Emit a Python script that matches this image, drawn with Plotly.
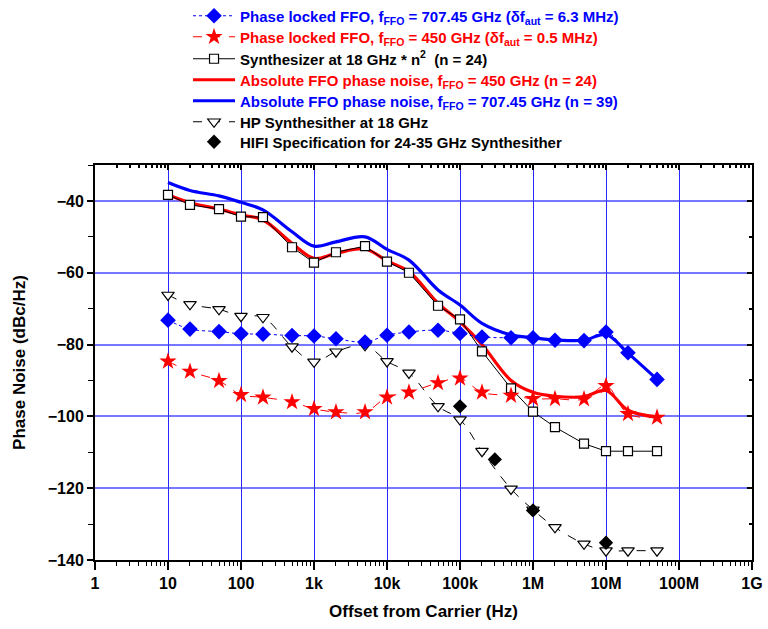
import plotly.graph_objects as go

# ---------------- data ----------------
freq = [10, 20, 50, 100, 200, 500, 1e3, 2e3, 5e3, 1e4, 2e4, 5e4, 1e5, 2e5, 5e5,
        1e6, 2e6, 5e6, 1e7, 2e7, 5e7]

pl_707 = [-73.2, -75.7, -76.4, -77.0, -77.1, -77.5, -77.6, -78.4, -79.3, -77.4, -76.5,
          -76.0, -76.9, -77.9, -78.1, -78.1, -78.8, -78.9, -76.5, -82.3, -89.7]
pl_450 = [-84.7, -87.5, -90.1, -94.0, -94.7, -96.0, -97.9, -98.8, -98.8, -94.7, -93.3,
          -90.7, -89.4, -93.3, -94.2, -95.1, -95.1, -95.2, -91.5, -99.3, -100.3]
synth = [-38.3, -41.1, -42.3, -44.4, -44.5, -52.9, -57.2, -54.3, -52.6, -56.9, -60.0,
         -69.2, -73.0, -81.9, -92.2, -98.7, -103.0, -107.6, -109.7, -109.7, -109.7]
abs_450 = [-38.3, -40.5, -42.3, -43.9, -45.3, -51.8, -56.0, -54.6, -53.4, -56.7, -59.7,
           -68.5, -73.7, -80.0, -90.0, -93.3, -94.4, -94.5, -92.8, -98.3, -100.2]
abs_707 = [-34.9, -37.1, -38.6, -40.4, -42.5, -48.6, -52.6, -51.4, -50.0, -53.5, -56.5,
           -64.8, -69.0, -74.1, -77.3, -78.1, -78.7, -78.8, -77.2, -82.4, -89.7]
hp_synth = [-66.2, -68.8, -70.2, -72.1, -72.4, -80.6, -84.8, -82.0, -80.2, -84.7, -87.9,
            -97.2, -100.9, -109.7, -120.2, -126.0, -130.9, -135.5, -137.4, -137.4, -137.4]

hifi_freq = [1e5, 3e5, 1e6, 1e7]
hifi_spec = [-97.2, -112.0, -126.2, -135.2]

x_tickvals = [1, 10, 100, 1e3, 1e4, 1e5, 1e6, 1e7, 1e8, 1e9]
x_ticktext = ["1", "10", "100", "1k", "10k", "100k", "1M", "10M", "100M", "1G"]
y_tickvals = [-140, -120, -100, -80, -60, -40]

names = [
    '<span style="color:#0000ff">Phase locked FFO, f<sub>FFO</sub> = 707.45 GHz (&#948;f<sub>aut</sub> = 6.3 MHz)</span>',
    '<span style="color:#ff0000">Phase locked FFO, f<sub>FFO</sub> = 450 GHz (&#948;f<sub>aut</sub> = 0.5 MHz)</span>',
    'Synthesizer at 18 GHz * n<sup>2</sup>  (n = 24)',
    '<span style="color:#ff0000">Absolute FFO phase noise, f<sub>FFO</sub> = 450 GHz (n = 24)</span>',
    '<span style="color:#0000ff">Absolute FFO phase noise, f<sub>FFO</sub> = 707.45 GHz (n = 39)</span>',
    'HP Synthesither at 18 GHz',
    'HIFI Specification for 24-35 GHz Synthesither',
]

FONT = "Arial, Liberation Sans, sans-serif"
BLUE = "#0000ff"
RED = "#ff0000"

minor_x = [k * 10 ** n for n in range(0, 9) for k in range(2, 10)]

fig = go.Figure()

fig.add_trace(go.Scatter(x=freq, y=abs_450, mode="lines", name=names[3], legend="legend4",
                         line=dict(color=RED, width=3.2, shape="spline")))
fig.add_trace(go.Scatter(x=freq, y=abs_707, mode="lines", name=names[4], legend="legend5",
                         line=dict(color=BLUE, width=3.2, shape="spline")))
fig.add_trace(go.Scatter(x=freq, y=hp_synth, mode="lines+markers", name=names[5], legend="legend6",
                         line=dict(color="black", width=1, dash="dash", shape="spline"),
                         marker=dict(symbol="triangle-down", size=11, color="white",
                                     line=dict(color="black", width=1.2))))
fig.add_trace(go.Scatter(x=freq, y=synth, mode="lines+markers", name=names[2], legend="legend3",
                         line=dict(color="black", width=1),
                         marker=dict(symbol="square", size=9, color="white",
                                     line=dict(color="black", width=1.2))))
fig.add_trace(go.Scatter(x=freq, y=pl_450, mode="lines+markers", name=names[1], legend="legend2",
                         line=dict(color=RED, width=1, dash="dash", shape="spline"),
                         marker=dict(symbol="star", size=13, color=RED)))
fig.add_trace(go.Scatter(x=freq, y=pl_707, mode="lines+markers", name=names[0], legend="legend",
                         line=dict(color=BLUE, width=1, dash="dot", shape="spline"),
                         marker=dict(symbol="diamond", size=12, color=BLUE)))
fig.add_trace(go.Scatter(x=hifi_freq, y=hifi_spec, mode="markers", name=names[6], legend="legend7",
                         marker=dict(symbol="diamond", size=11, color="black")))
fig.add_trace(go.Scatter(x=[], y=[], xaxis="x2", yaxis="y2", showlegend=False,
                         hoverinfo="skip"))

axis_font = dict(family=FONT, size=16, color="black", weight="bold")

# legend row centres (pixels from top) -> paper coordinates
row_px = [16, 37, 59, 80, 101, 122, 142]
plot_top, plot_bottom = 165, 560
legend_layout = {}
for i, ypx in enumerate(row_px):
    key = "legend" if i == 0 else f"legend{i + 1}"
    legend_layout[key] = dict(
        x=0.1416, y=(plot_bottom - ypx) / (plot_bottom - plot_top),
        xanchor="left", yanchor="middle",
        bgcolor="rgba(0,0,0,0)", borderwidth=0,
        font=dict(family=FONT, size=15, color="black", weight="bold"),
        itemwidth=42)

fig.update_layout(
    width=768, height=629,
    margin=dict(l=95, r=16, t=165, b=69, autoexpand=False),
    paper_bgcolor="white", plot_bgcolor="white",
    font=dict(family=FONT, color="black"),
    showlegend=True,
    **legend_layout,
    xaxis=dict(type="log", range=[0, 9], tickvals=x_tickvals, ticktext=x_ticktext,
               automargin=False,
               tickfont=axis_font, ticks="outside", ticklen=8, tickwidth=1.5,
               tickcolor="black", showline=True, linecolor="black", linewidth=2,
               showgrid=True, gridcolor="rgba(0,0,255,0.85)", gridwidth=1.2,
               zeroline=False,
               minor=dict(tickvals=minor_x, ticks="outside", ticklen=4, tickwidth=1,
                          tickcolor="black", showgrid=False),
               title=dict(text="Offset from Carrier (Hz)", standoff=14,
                          font=dict(family=FONT, size=17, color="black", weight="bold"))),
    yaxis=dict(range=[-140, -30], tickvals=y_tickvals, tickfont=axis_font,
               automargin=False,
               ticks="outside", ticklen=6, tickwidth=1.5, tickcolor="black",
               showline=True, linecolor="black", linewidth=2,
               showgrid=True, gridcolor="rgba(60,60,255,0.7)", gridwidth=1.5,
               zeroline=False,
               minor=dict(dtick=10, ticks="outside", ticklen=5, tickwidth=1,
                          tickcolor="black", showgrid=False),
               title=dict(text="Phase Noise (dBc/Hz)", standoff=18,
                          font=dict(family=FONT, size=17, color="black", weight="bold"))),
    xaxis2=dict(type="log", range=[0, 9], overlaying="x", side="top", anchor="y",
                automargin=False,
                tickvals=x_tickvals, showticklabels=False, ticks="inside", ticklen=5,
                tickcolor="black", tickwidth=1.5, showline=True, linecolor="black",
                linewidth=2, showgrid=False, zeroline=False,
                minor=dict(tickvals=minor_x, ticks="inside", ticklen=3,
                           tickcolor="black", showgrid=False)),
    yaxis2=dict(range=[-140, -30], overlaying="y", side="right", anchor="x",
                automargin=False,
                tickvals=y_tickvals, showticklabels=False, ticks="inside", ticklen=5,
                tickcolor="black", tickwidth=1.5, showline=True, linecolor="black",
                linewidth=2, showgrid=False, zeroline=False,
                minor=dict(dtick=10, ticks="inside", ticklen=3, tickcolor="black",
                           showgrid=False)),
)

fig.write_html("out.html")
